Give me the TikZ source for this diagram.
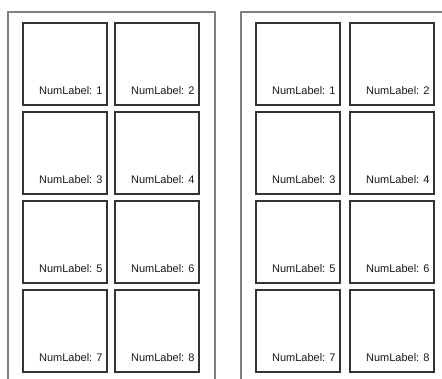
\documentclass[tikz,border=0pt]{standalone}
\usepackage{fontspec}
\setmainfont{Liberation Sans}
\usetikzlibrary{calc}
\definecolor{framegray}{gray}{0.5}
\definecolor{cellgray}{gray}{0.2}
\definecolor{textgray}{gray}{0.1}
\tikzset{
  frameline/.style={draw=framegray, line width=1.6pt},
  cell/.style={draw=cellgray, line width=1.7pt, minimum width=84pt, minimum height=82pt, inner sep=0pt, anchor=north west},
  lbl/.style={font=\fontsize{11}{13}\selectfont, text=textgray, inner sep=0pt, anchor=base east}
}
\begin{document}
\begin{tikzpicture}[x=1pt,y=-1pt]
\useasboundingbox (0,0) rectangle (442,378);
\fill[white] (0,0) rectangle (442,378);
% outer frames (open at the bottom)
\coordinate (lf1) at (8,380);
\coordinate (lf2) at (8,12);
\coordinate (lf3) at (215,12);
\coordinate (lf4) at (215,380);
\draw[frameline] (lf1) -- (lf2) -- (lf3) -- (lf4);
\coordinate (rf1) at (241,380);
\coordinate (rf2) at (241,12);
\coordinate (rf3) at (444,12);
\draw[frameline] (rf1) -- (rf2) -- (rf3);
% left panel cells
\foreach \n/\x/\y in {1/22/22, 2/114/22, 3/22/111, 4/114/111, 5/22/200, 6/114/200, 7/22/289, 8/114/289}{
  \node[cell] (A\n) at (\x,\y) {};
  \node[lbl] (At\n) at ($(A\n.south east)+(-5,-11)$) {NumLabel: \n};
}
% right panel cells
\foreach \n/\x/\y in {1/255/22, 2/349/22, 3/255/111, 4/349/111, 5/255/200, 6/349/200, 7/255/289, 8/349/289}{
  \node[cell] (B\n) at (\x,\y) {};
  \node[lbl] (Bt\n) at ($(B\n.south east)+(-5,-11)$) {NumLabel: \n};
}
\end{tikzpicture}
\end{document}
